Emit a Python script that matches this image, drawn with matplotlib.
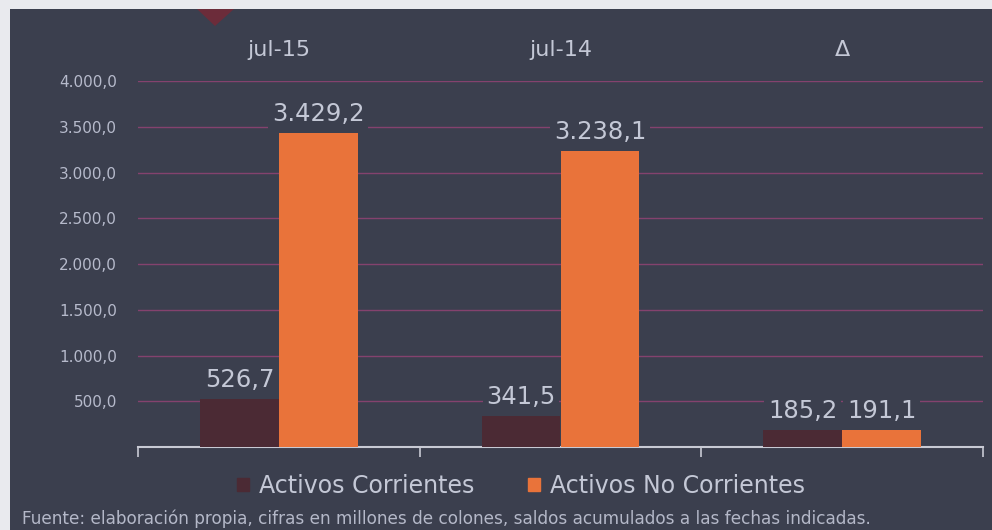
import matplotlib
matplotlib.use("Agg")
from matplotlib import pyplot as plt
from matplotlib.patches import Rectangle, Polygon
import numpy as np

# data
categories = ["jul-15", "jul-14", "\u0394"]
corrientes = [526.7, 341.5, 185.2]
no_corrientes = [3429.2, 3238.1, 191.1]
series_names = ["Activos Corrientes", "Activos No Corrientes"]
yticks = [500, 1000, 1500, 2000, 2500, 3000, 3500, 4000]
footer = "Fuente: elaboración propia, cifras en millones de colones, saldos acumulados a las fechas indicadas."

bg = "#3b3f4e"
dark = "#4b2a34"
orange = "#e9733a"
grid_col = "#84426e"
txt = "#c4c8d6"

def fmt(v):
    # spanish style: 3.429,2
    s = "{:,.1f}".format(v)
    return s.replace(",", "X").replace(".", ",").replace("X", ".")

fig = plt.figure(figsize=(9.92, 5.30), dpi=100)
fig.patch.set_facecolor("#e9eaee")
fig.patches.append(Rectangle((10/992, 0), 1, (530-9)/530, transform=fig.transFigure,
                             facecolor=bg, edgecolor="none", zorder=-2))
# little red mark at top of the scan
fig.patches.append(Polygon([(197/992, 1-9/530), (234/992, 1-9/530), (215/992, 1-26/530)],
                           closed=True, transform=fig.transFigure,
                           facecolor="#6c2c3a", edgecolor="none", zorder=-1))

ax = fig.add_axes([138/992, 83/530, 845/992, 366/530])
ax.set_facecolor("none")

x = np.arange(len(categories))
w = 0.28
ax.bar(x - w/2, corrientes, w, color=dark, zorder=3)
ax.bar(x + w/2, no_corrientes, w, color=orange, zorder=3)

ax.set_xlim(-0.5, 2.5)
ax.set_ylim(0, 4000)
ax.set_yticks(yticks)
ax.set_yticklabels([fmt(v) for v in yticks], color="#b6bacb", fontsize=11)
ax.tick_params(axis="y", length=0, pad=15)
ax.yaxis.grid(True, color=grid_col, linewidth=1.0, zorder=1)
ax.set_axisbelow(True)

ax.set_xticks([-0.5, 0.5, 1.5, 2.5])
ax.set_xticklabels([])
ax.tick_params(axis="x", length=7, width=1.2, color="#c8cad4", direction="out")
for s in ["top", "right", "left"]:
    ax.spines[s].set_visible(False)
ax.spines["bottom"].set_color("#c8cad4")
ax.spines["bottom"].set_linewidth(1.5)

# category labels above the plot
for i, c in enumerate(categories):
    ax.text(i, 1.085, c, transform=ax.get_xaxis_transform(), ha="center", va="center",
            color=txt, fontsize=16)

# value labels
for i in range(len(categories)):
    for dx, v in [(-w/2, corrientes[i]), (w/2, no_corrientes[i])]:
        ax.annotate(fmt(v), (i + dx, v), xytext=(0, 5), textcoords="offset points",
                    ha="center", va="bottom", color=txt, fontsize=17.5, zorder=4,
                    bbox=dict(boxstyle="square,pad=0.15", facecolor=bg, edgecolor="none"))

handles = [Rectangle((0, 0), 1, 1, color=dark), Rectangle((0, 0), 1, 1, color=orange)]
leg = fig.legend(handles, series_names, loc="center", bbox_to_anchor=(521/992, 1-486/530),
                 ncol=2, frameon=False, fontsize=17, handlelength=0.5, handleheight=0.5,
                 handletextpad=0.4, columnspacing=2.3)
for t in leg.get_texts():
    t.set_color(txt)

fig.text(22/992, 1-519/530, footer, ha="left", va="center", color="#b4b8c8", fontsize=12.2)

fig.savefig("out.png", dpi=100, facecolor=fig.get_facecolor())
